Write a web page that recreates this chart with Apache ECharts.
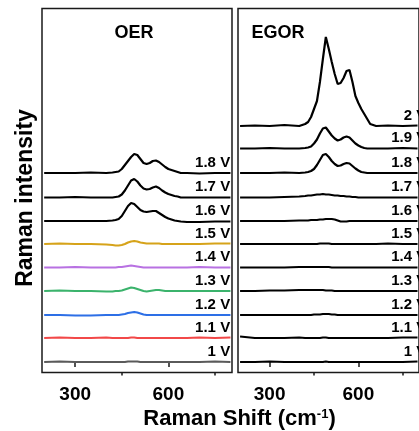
<!DOCTYPE html>
<html>
<head>
<meta charset="utf-8">
<script src="https://cdn.jsdelivr.net/npm/echarts@6/dist/echarts.min.js"></script>
<style>html,body{margin:0;padding:0;background:#fff;}#c{width:419px;height:431px;}</style>
</head>
<body>
<div id="c"></div>
<script>
// Raman shift sampling (cm-1)
const shift = [200,250,300,350,400,420,430,440,450,460,470,480,490,500,510,520,530,540,550,560,570,580,590,600,610,620,630,640,660,700,750,800];
const xTickLabels = [300, 600];
const xMinorTicks = [450, 750];
// vertical stacking offsets for 1.0 ... 2.0 V
const offsets = [0, 24, 47, 71, 94.5, 118, 141, 164.5, 189, 213.5, 236];
const oerLabels = ['1 V','1.1 V','1.2 V','1.3 V','1.4 V','1.5 V','1.6 V','1.7 V','1.8 V'];
const egorLabels = ['1 V','1.1 V','1.2 V','1.3 V','1.4 V','1.5 V','1.6 V','1.7 V','1.8 V','1.9 V','2 V'];
const oerColors = ['#5a5a5a','#f24848','#2d6fe6','#3bb36c','#b871e2','#d6a31a','#000','#000','#000'];

// OER intensities (a.u.)
const oer10 = [0,0.5,0,0,0, 0,0,0,0,0, 0.5,0.5,0.5,0.5,0, 0,0,0,0,0, 0,0,0,0,0, 0,0,0,0,0, 0.5,0];
const oer11 = [0,0.5,0,0,0.5, 0,0,0,0,0, 0,0.5,0.5,0,0, 0,0,0,0,0, 0,0,0,0,0, 0,0,0,0,0.5, 0,0.5];
const oer12 = [0,0,-0.5,-0.5,0, 0,0,0,0.5,1, 2,2.5,3,2.5,1.5, 0.5,0,0,0,0, 0,0,0,0,0, 0,0,0,0,0, 0,0];
const oer13 = [0,0.5,0,0,-0.5, -0.5,0,0,0.5,1.5, 2.5,3.5,3,2,1, 0,-0.5,0,0.5,1, 1,0.5,0,0,0, 0,0,0,0,0, 0,0];
const oer14 = [0,0,0.5,0,0, 0,0,0.5,0.5,1, 1.5,2,1.5,1,0.5, 0,0,0,0,0, 0,0,0,0,0, 0,0,0,0,0.5, 0,0];
const oer15 = [0,0.5,0,0,-0.5, -1,-1.5,-1.5,-1,0, 1.5,2.5,3,2.5,1.5, 1,0.5,0.5,0.5,0.5, 0.5,0,0,0,0, 0,0,0,0,0, 0.5,0.5];
const oer16 = [0,0,0,0,0, 0.5,1,2,5,10, 15,18,17,14,11, 9.5,9,9.5,10,10, 8,6,4,2.5,1.5, 0.5,0,-0.5,-1,-1, -0.5,-0.5];
const oer17 = [0,0,0.5,0,0, 0,0.5,1,3,7, 12,17,18.5,16,12, 9,8,8.5,10,11, 9.5,7,5,3.5,2.5, 1.5,1,0,0,0, 0,0];
const oer18 = [0,0,0,0.5,0, 0.5,1,1.5,4,8, 12,16,19,18,14, 10,9,10,12,12.5, 11,8.5,6,4,3, 2,1,0,0,-0.5, 0,0];

// EGOR intensities (a.u.)
const egor10 = [0,0,0.5,0,0, 0,0,0,0,0, 0,0,0.5,0,0, 0,0,0,0,0, 0,0,0,0,0, 0,0,0,0,0, 0,0.5];
const egor11 = [1.5,0,0,0,0.5, 0,0,0,0,0, 0,0.5,0.5,0,0, 0,0,0,0,0, 0,0,0,0,0, 0,0,0,0,0, 0.5,0.5];
const egor12 = [0,0,0,0,0, 0,0,0,0.5,0.5, 0.5,1,1,1,0.5, 0.5,0,0,0,0, 0,0,0,0,0, 0,0,0,0,0, 0,0];
const egor13 = [0,0,0.5,0.5,1, 1,1,1,1,1, 1,1,0.5,0.5,0.5, 0,0,0,0,0, 0,0,0,0,0, 0,0,0,0,0, 0,0];
const egor14 = [0,0,0,0,0.5, 0.5,0.5,0.5,0.5,0.5, 0.5,0.5,0.5,0.5,0, 0,0,0,0,0, 0,0,0,0,0, 0,0,0,0,0, 0,0];
const egor15 = [0,0,0,0,0, 0,0,0,0,0, 0.5,0.5,0.5,0.5,0, 0,0,0,0,0, 0,0,0,0,0, 0,0,0,0,0.5, 0,0];
const egor16 = [0,0,0,0,0.5, 0.5,0.5,1,1,1, 1.5,1.5,2,2,2, 1.5,0.5,-0.5,-0.5,-0.5, 0,0,0,0,0, 0,0,0,0,0, 0,0];
const egor17 = [0,0,0,0.5,1, 1.5,2,2,2.5,3, 3,3.5,3,3,2.5, 2,2,1.5,1.5,1, 1,0.5,0.5,0,0, 0,0,0,0,0, 0,0];
const egor18 = [0,0,0,0.5,0, 0.5,1,2,4,8, 13,18,19,16,12, 9,7,7.5,9,10, 9.5,7,4.5,2.5,1, 0.5,0,0,0,0, 0,0];
const egor19 = [0,0,0.5,0,0, 0.5,1,2,5,9, 15,20,21,17,13, 10,8,9,11,12, 11,8,5,3,1.5, 0.5,0,0,0,0, 0.5,0];
const egor20 = [0,0.5,0,1,0, 2,4,9,17,25, 44,67,89,77,64, 52,42,43,48,55, 56,44,30,23,17, 12,7,2,0,0.5, 0,0.5];

const oerSets = [oer10,oer11,oer12,oer13,oer14,oer15,oer16,oer17,oer18];
const egorSets = [egor10,egor11,egor12,egor13,egor14,egor15,egor16,egor17,egor18,egor19,egor20];

const FONT = 'Liberation Sans, Arial, sans-serif';
const XMIN = 193, XMAX = 805, YMIN = -10.5, YMAX = 353.5;
const LABEL_X = 799, LABEL_DY = 10.5;

function mainX(g){
  return {gridIndex:g, type:'value', min:XMIN, max:XMAX,
    axisLine:{show:false}, splitLine:{show:false},
    axisTick:{show:true, customValues:xTickLabels, length:5, lineStyle:{color:'#1a1a1a', width:1.5}},
    axisLabel:{customValues:xTickLabels, fontSize:19, fontWeight:'bold', color:'#000', margin:13, fontFamily:FONT}};
}
function minorX(g){
  return {gridIndex:g, type:'value', min:XMIN, max:XMAX, position:'bottom',
    axisLine:{show:false}, splitLine:{show:false}, axisLabel:{show:false},
    axisTick:{show:true, customValues:xMinorTicks, length:3, lineStyle:{color:'#1a1a1a', width:1.5}}};
}
function yAx(g){
  return {gridIndex:g, type:'value', min:YMIN, max:YMAX,
    axisLine:{show:false}, axisTick:{show:false}, axisLabel:{show:false}, splitLine:{show:false}};
}

const series = [];
oerSets.forEach((vals, i) => {
  series.push({type:'line', xAxisIndex:0, yAxisIndex:0, showSymbol:false, symbol:'none', silent:true,
    lineStyle:{color:oerColors[i], width:2.2}, z:2,
    data: shift.map((x, k) => [x, vals[k] + offsets[i]])});
});
egorSets.forEach((vals, i) => {
  series.push({type:'line', xAxisIndex:2, yAxisIndex:1, showSymbol:false, symbol:'none', silent:true,
    lineStyle:{color:'#000', width:2.2}, z:2,
    data: shift.map((x, k) => [x, vals[k] + offsets[i]])});
});
function labelStyle(dx){
  return {show:true, position:[0,0], offset:[dx,0], align:'right', verticalAlign:'middle', opacity:1,
    fontSize:15, fontWeight:'bold', color:'#000', fontFamily:FONT, formatter: p => p.value[2]};
}
series.push({type:'scatter', xAxisIndex:0, yAxisIndex:0, symbolSize:0, silent:true, z:3, label:labelStyle(0),
  itemStyle:{opacity:1}, emphasis:{disabled:true},
  data: oerLabels.map((t, i) => [LABEL_X, offsets[i] + LABEL_DY, t])});
series.push({type:'scatter', xAxisIndex:2, yAxisIndex:1, symbolSize:0, silent:true, z:3, label:labelStyle(9),
  itemStyle:{opacity:1}, emphasis:{disabled:true},
  data: egorLabels.map((t, i) => [LABEL_X, offsets[i] + LABEL_DY, t])});

const chart = echarts.init(document.getElementById('c'), null, {renderer:'canvas'});
chart.setOption({
  animation:false,
  backgroundColor:'#fff',
  grid:[
    {left:42, top:8.5, width:190, height:364, show:true, borderColor:'#1a1a1a', borderWidth:1.5},
    {left:238, top:8.5, width:190, height:364, show:true, borderColor:'#1a1a1a', borderWidth:1.5}
  ],
  xAxis:[mainX(0), minorX(0), mainX(1), minorX(1)],
  yAxis:[yAx(0), yAx(1)],
  series: series,
  graphic:[
    {type:'text', x:134, y:33, style:{text:'OER', align:'center', verticalAlign:'middle', fontSize:18, fontWeight:'bold', fill:'#000', fontFamily:FONT}},
    {type:'text', x:278, y:33, style:{text:'EGOR', align:'center', verticalAlign:'middle', fontSize:18, fontWeight:'bold', fill:'#000', fontFamily:FONT}},
    {type:'text', x:26, y:198, rotation:Math.PI/2, style:{text:'Raman intensity', align:'center', verticalAlign:'middle', fontSize:23, fontWeight:'bold', fill:'#000', fontFamily:FONT}},
    {type:'text', x:239.5, y:419, style:{text:'{a|Raman Shift (cm}{s|-1}{a|)}', align:'center', verticalAlign:'middle',
      rich:{a:{fontSize:22, fontWeight:'bold', fill:'#000', fontFamily:FONT},
            s:{fontSize:13, fontWeight:'bold', fill:'#000', fontFamily:FONT, verticalAlign:'top'}}}}
  ]
});
</script>
</body>
</html>
